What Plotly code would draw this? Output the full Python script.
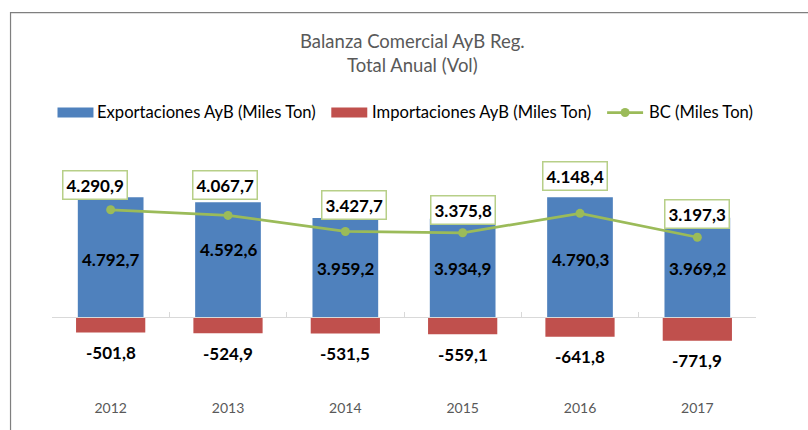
import plotly.graph_objects as go

# ---- data -------------------------------------------------------------
years = ["2012", "2013", "2014", "2015", "2016", "2017"]
exportaciones = [4792.7, 4592.6, 3959.2, 3934.9, 4790.3, 3969.2]
importaciones = [-501.8, -524.9, -531.5, -559.1, -641.8, -771.9]
balanza = [4290.9, 4067.7, 3427.7, 3375.8, 4148.4, 3197.3]

title_lines = ["Balanza Comercial AyB Reg.", "Total Anual (Vol)"]
legend_names = ["Exportaciones AyB (Miles Ton)", "Importaciones AyB (Miles Ton)", "BC (Miles Ton)"]

# ---- styling / layout constants ---------------------------------------
FONT = "Lato"
BLUE, RED, GREEN = "#4f81bd", "#c0504d", "#9bbb59"
BOX_BORDER = "#b7cf88"
GRAY_TXT = "#595959"
AXIS_GRAY = "#d9d9d9"

W, H = 808, 430
M_L, M_R, M_T, M_B = 51.5, 52, 150, 35
PLOT_W = W - M_L - M_R
PLOT_H = H - M_T - M_B

# primary axis (exports, balance) and secondary axis (imports) share the zero line
Y1_RANGE = [-3088, 6673]
Y2_RANGE = [-2575, 5565]
ZERO_FRAC = -Y1_RANGE[0] / (Y1_RANGE[1] - Y1_RANGE[0])

# label nudges in pixels (dx, dy)
BC_SHIFT = [(-16, 24.5), (-3, 30), (9, 26), (0, 23), (-5, 37), (0, 23.5)]
EXP_SHIFT = [-2, 10, -1, 0, -2, -1]
IMP_SHIFT = -20


def px_x(px):
    return (px - M_L) / PLOT_W


def px_y(py):
    return (H - M_B - py) / PLOT_H


def fmt(v):
    s = f"{v:,.1f}"
    return s.replace(",", "#").replace(".", ",").replace("#", ".")


fig = go.Figure()

fig.add_trace(go.Bar(
    x=years, y=exportaciones, name=legend_names[0], yaxis="y",
    marker=dict(color=BLUE, line=dict(width=0)), width=0.56, showlegend=False,
    hoverinfo="skip",
))
fig.add_trace(go.Bar(
    x=years, y=importaciones, name=legend_names[1], yaxis="y2",
    marker=dict(color=RED, line=dict(width=0)), width=0.59, showlegend=False,
    hoverinfo="skip",
))
fig.add_trace(go.Scatter(
    x=years, y=balanza, name=legend_names[2], yaxis="y",
    mode="lines+markers", line=dict(color=GREEN, width=2.75),
    marker=dict(color=GREEN, size=9), showlegend=False, hoverinfo="skip",
))

annotations = []

# two-line title
annotations.append(dict(
    x=px_x(412), y=px_y(53), xref="paper", yref="paper",
    text="<br>".join(title_lines), showarrow=False, xanchor="center", yanchor="middle",
    align="center", font=dict(family=FONT, size=18.5, color=GRAY_TXT),
))

# category positions on the x axis are addressed by index
for i, (v, dy) in enumerate(zip(exportaciones, EXP_SHIFT)):
    # export values inside the blue bars
    annotations.append(dict(
        x=i, y=v / 2, xref="x", yref="y", yshift=dy, text=f"<b>{fmt(v)}</b>",
        showarrow=False, font=dict(family=FONT, size=17, color="#000000"),
    ))

for i, v in enumerate(importaciones):
    # import values below the red bars
    annotations.append(dict(
        x=i, y=v, xref="x", yref="y2", yshift=IMP_SHIFT, text=f"<b>{fmt(v)}</b>",
        showarrow=False, font=dict(family=FONT, size=17, color="#000000"),
    ))

for i, (v, (dx, dy)) in enumerate(zip(balanza, BC_SHIFT)):
    # boxed balance values
    annotations.append(dict(
        x=i, y=v, xref="x", yref="y", xshift=dx, yshift=dy, text=f"<b>{fmt(v)}</b>",
        showarrow=False, bgcolor="#ffffff", bordercolor=BOX_BORDER, borderwidth=1.5,
        borderpad=3, font=dict(family=FONT, size=17, color="#000000"),
    ))

# legend
LEG_Y = 112.5
for text, px in zip(legend_names, [95, 370, 647]):
    annotations.append(dict(
        x=px_x(px), y=px_y(LEG_Y), xref="paper", yref="paper", text=text,
        showarrow=False, xanchor="left", yanchor="middle",
        font=dict(family=FONT, size=16.6, color="#000000"),
    ))

shapes = [
    # chart frame
    dict(type="rect", xref="paper", yref="paper",
         x0=px_x(10), x1=px_x(830), y0=px_y(460), y1=px_y(12.7),
         line=dict(color="#7f7f7f", width=1.2), fillcolor="rgba(0,0,0,0)", layer="below"),
    # legend swatches
    dict(type="rect", xref="paper", yref="paper",
         x0=px_x(57), x1=px_x(93), y0=px_y(117.5), y1=px_y(107.5),
         line=dict(width=0), fillcolor=BLUE),
    dict(type="rect", xref="paper", yref="paper",
         x0=px_x(331), x1=px_x(367), y0=px_y(117.5), y1=px_y(107.5),
         line=dict(width=0), fillcolor=RED),
    dict(type="line", xref="paper", yref="paper",
         x0=px_x(607), x1=px_x(643), y0=px_y(LEG_Y), y1=px_y(LEG_Y),
         line=dict(color=GREEN, width=2.75)),
    dict(type="circle", xref="paper", yref="paper",
         x0=px_x(620.5), x1=px_x(629.5), y0=px_y(LEG_Y + 4.5), y1=px_y(LEG_Y - 4.5),
         line=dict(width=0), fillcolor=GREEN),
]

fig.update_layout(
    width=W, height=H, autosize=False,
    margin=dict(l=M_L, r=M_R, t=M_T, b=M_B, pad=0),
    paper_bgcolor="#ffffff", plot_bgcolor="#ffffff",
    barmode="overlay", showlegend=False,
    font=dict(family=FONT, color=GRAY_TXT),
    xaxis=dict(
        type="category", categoryorder="array", categoryarray=years,
        range=[-0.5, len(years) - 0.5],
        anchor="free", position=ZERO_FRAC,
        showline=True, linecolor=AXIS_GRAY, linewidth=1,
        ticks="inside", tickson="boundaries", ticklen=5, tickcolor=AXIS_GRAY,
        showgrid=False, zeroline=False,
        tickfont=dict(family=FONT, size=14, color=GRAY_TXT),
        ticklabelstandoff=78,
    ),
    yaxis=dict(range=Y1_RANGE, visible=False, showgrid=False, zeroline=False),
    yaxis2=dict(range=Y2_RANGE, overlaying="y", visible=False,
                showgrid=False, zeroline=False),
    annotations=annotations,
    shapes=shapes,
)

fig.write_html("out.html")
